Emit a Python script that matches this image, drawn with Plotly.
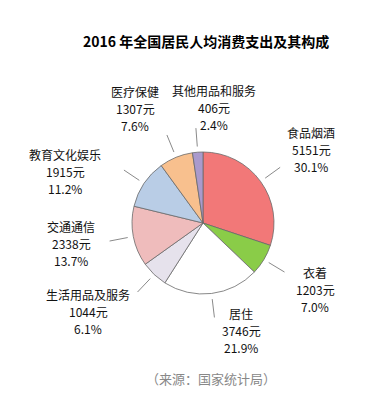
import math
import plotly.graph_objects as go

categories = ["食品烟酒", "衣着", "居住", "生活用品及服务", "交通通信", "教育文化娱乐", "医疗保健", "其他用品和服务"]
values = [5151, 1203, 3746, 1044, 2338, 1915, 1307, 406]
percent_labels = ["30.1%", "7.0%", "21.9%", "6.1%", "13.7%", "11.2%", "7.6%", "2.4%"]
colors = ["#f27878", "#8acc48", "#ffffff", "#e6e2ec", "#efbcbc", "#b9cde6", "#f8c08e", "#aa9acc"]

W, H = 387, 397
CX, CY, R = 195, 215, 71  # pie centre / radius in pixels

# label block centres (pixels)
label_pos = [(303, 141), (307, 281), (233, 322), (80, 303), (63, 235), (57, 163), (127, 101), (206, 99)]
LINE_GAP = 17

fig = go.Figure()
fig.add_trace(go.Pie(
    labels=categories, values=values, sort=False, direction="clockwise", rotation=0,
    marker=dict(colors=colors, line=dict(color="#6a6a6a", width=0.8)),
    textinfo="none", hoverinfo="label+value+percent", showlegend=False,
    domain=dict(x=[(CX - R) / W, (CX + R) / W], y=[(H - CY - R) / H, (H - CY + R) / H]),
))

def px(x):
    return x / W

def py(y):
    return 1 - y / H

total = sum(values)
cum = 0
shapes = []
annotations = []
for cat, v, pct, (lx, ly) in zip(categories, values, percent_labels, label_pos):
    mid = (cum + v / 2) / total * 2 * math.pi
    cum += v
    dx, dy = math.sin(mid), -math.cos(mid)
    r1, r2 = R * 1.08, R * 1.34
    shapes.append(dict(type="line", xref="paper", yref="paper",
                       x0=px(CX + dx * r1), y0=py(CY + dy * r1),
                       x1=px(CX + dx * r2), y1=py(CY + dy * r2),
                       line=dict(color="#8a8a8a", width=1)))
    for i, line in enumerate([cat, f"{v}元", pct]):
        annotations.append(dict(text=line, xref="paper", yref="paper",
                                x=px(lx), y=py(ly + (i - 1) * LINE_GAP),
                                xanchor="center", yanchor="middle",
                                showarrow=False, align="center",
                                font=dict(family="Noto Sans CJK SC", size=12, color="#111111")))

annotations.append(dict(text="<b>2016 年全国居民人均消费支出及其构成</b>", xref="paper", yref="paper",
                        x=px(198), y=py(33), xanchor="center", yanchor="middle", showarrow=False,
                        font=dict(family="Noto Sans CJK SC", size=14, color="#000000")))
annotations.append(dict(text="（来源：国家统计局）", xref="paper", yref="paper",
                        x=px(203), y=py(370), xanchor="center", yanchor="middle", showarrow=False,
                        font=dict(family="Noto Sans CJK SC", size=13, color="#888888")))

fig.update_layout(width=W, height=H, margin=dict(l=0, r=0, t=0, b=0),
                  paper_bgcolor="#ffffff", plot_bgcolor="#ffffff",
                  shapes=shapes, annotations=annotations)
fig.write_html("out.html")
